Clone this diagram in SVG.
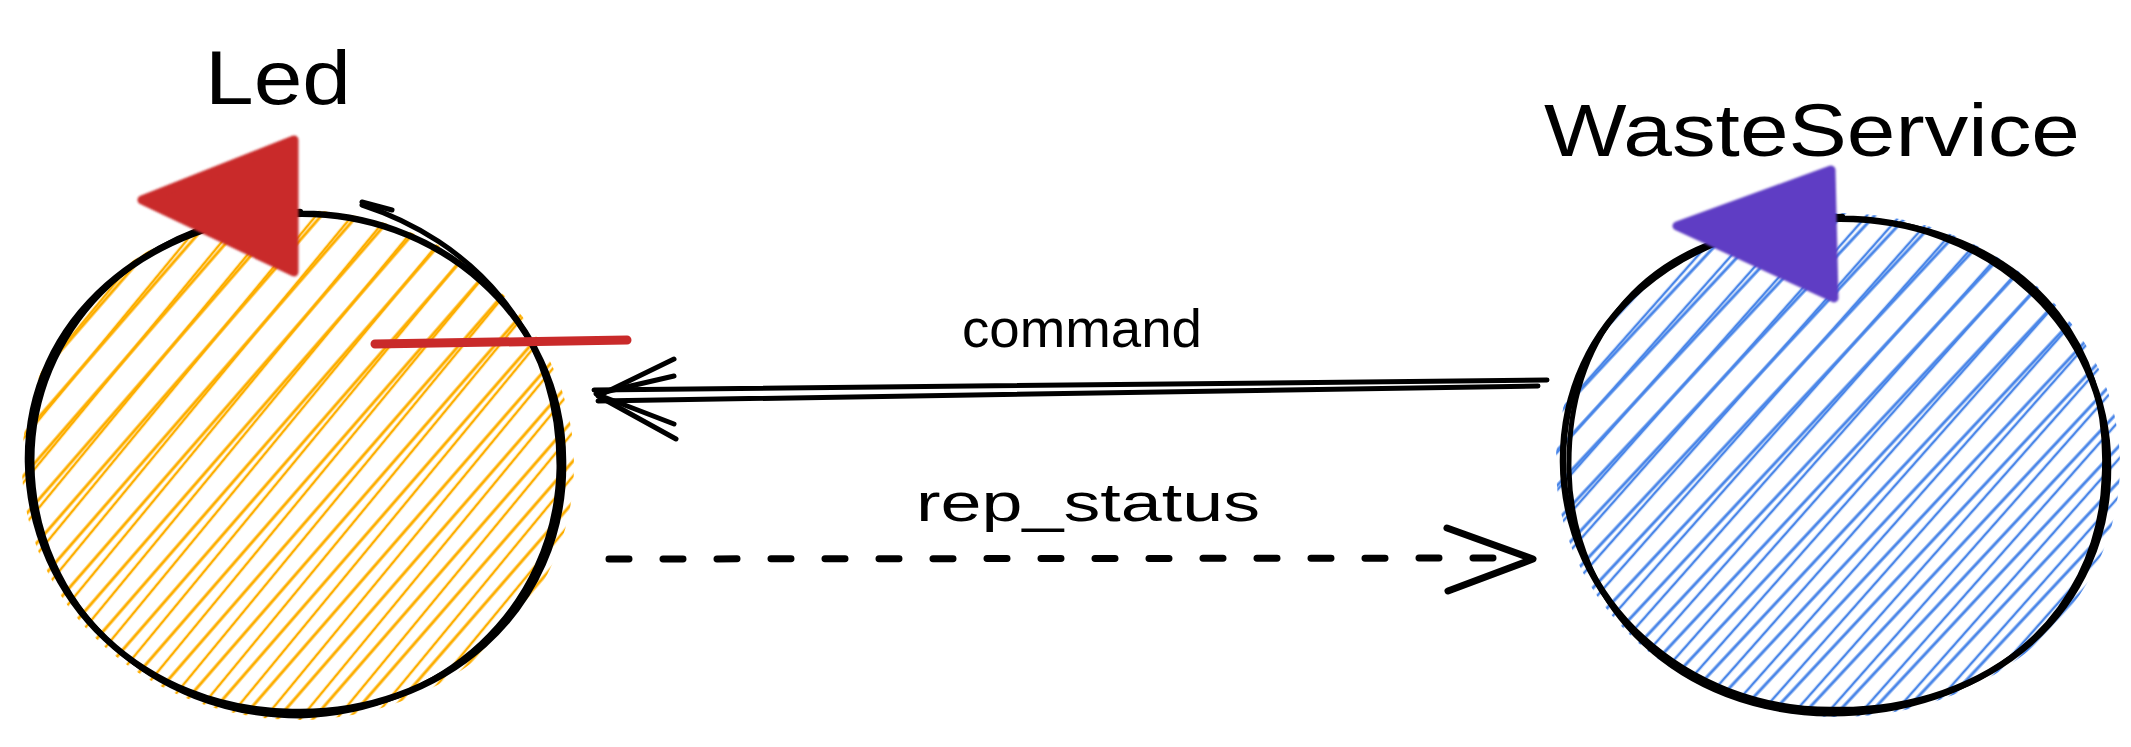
<svg xmlns="http://www.w3.org/2000/svg" width="2131" height="747" viewBox="0 0 2131 747">
  <style>
    .outline { fill: none; stroke: #000; stroke-width: 6.5; stroke-linecap: round; stroke-linejoin: round; }
    .outline2 { fill: none; stroke: #000; stroke-width: 5; stroke-linecap: round; stroke-linejoin: round; }
    .label { font-family: "Liberation Sans", "DejaVu Sans", sans-serif; fill: #000; }
    .conn { fill: none; stroke: #000; stroke-width: 5; stroke-linecap: round; stroke-linejoin: round; }
    .dash { fill: none; stroke: #000; stroke-width: 7; stroke-linecap: round; stroke-dasharray: 20 34; }
    .head { fill: none; stroke: #000; stroke-width: 7; stroke-linecap: round; stroke-linejoin: round; }
  </style>
  <defs>
    <pattern id="hOrangeA" patternUnits="userSpaceOnUse" width="200" height="27" patternTransform="rotate(-49)">
      <line x1="0" y1="6" x2="200" y2="6" stroke="#fdae00" stroke-width="3"/>
    </pattern>
    <pattern id="hOrangeB" patternUnits="userSpaceOnUse" width="200" height="28" patternTransform="rotate(-50.5) translate(0,11)">
      <line x1="0" y1="6" x2="200" y2="6" stroke="#fdae00" stroke-width="2.6"/>
    </pattern>
    <pattern id="hBlueA" patternUnits="userSpaceOnUse" width="200" height="24" patternTransform="rotate(-47)">
      <line x1="0" y1="6" x2="200" y2="6" stroke="#4a86e8" stroke-width="3"/>
    </pattern>
    <pattern id="hBlueB" patternUnits="userSpaceOnUse" width="200" height="25" patternTransform="rotate(-48.5) translate(0,10)">
      <line x1="0" y1="6" x2="200" y2="6" stroke="#4a86e8" stroke-width="2.6"/>
    </pattern>
    <clipPath id="clipLed">
      <ellipse cx="298" cy="465" rx="276" ry="255"/>
    </clipPath>
    <clipPath id="clipWaste">
      <ellipse cx="1838" cy="465" rx="282" ry="252"/>
    </clipPath>
    <filter id="soft" x="-10%" y="-10%" width="120%" height="120%">
      <feGaussianBlur stdDeviation="1.3"/>
    </filter>
  </defs>

  <rect x="0" y="0" width="2131" height="747" fill="#fff"/>

  <g id="node-led">
    <g clip-path="url(#clipLed)">
      <rect x="0" y="190" width="600" height="550" fill="url(#hOrangeA)"/>
      <rect x="0" y="190" width="600" height="550" fill="url(#hOrangeB)"/>
    </g>
    <path class="outline" d="M 290,214 C 438,208 562,318 563,460 C 566,612 440,716 292,712 C 145,710 30,602 28,462 C 26,318 150,218 300,212"/>
    <path class="outline2" d="M 362,205 C 470,240 560,330 559,468 C 556,610 440,712 300,716 C 150,716 34,606 32,464 C 30,330 140,224 270,214"/>
    <path class="outline2" d="M 362,202 L 392,210"/>
    <path d="M 142,200 L 294,140 L 294,272 Z" fill="#c92a2a" stroke="#c92a2a" stroke-width="9" stroke-linejoin="round" filter="url(#soft)"/>
    <line x1="375" y1="344" x2="627" y2="340" stroke="#c92a2a" stroke-width="9" stroke-linecap="round"/>
    <text class="label" x="205" y="104" font-size="76" textLength="146" lengthAdjust="spacingAndGlyphs">Led</text>
  </g>

  <g id="node-wasteservice">
    <g clip-path="url(#clipWaste)">
      <rect x="1540" y="200" width="600" height="540" fill="url(#hBlueA)"/>
      <rect x="1540" y="200" width="600" height="540" fill="url(#hBlueB)"/>
    </g>
    <path class="outline" d="M 1830,219 C 1990,214 2108,330 2108,465 C 2110,610 1990,712 1835,710 C 1685,712 1564,600 1563,462 C 1562,320 1680,222 1842,217"/>
    <path class="outline2" d="M 1900,224 C 2040,252 2112,350 2104,480 C 2098,620 1980,714 1830,714 C 1680,712 1572,610 1569,470 C 1567,340 1640,252 1760,230"/>
    <path d="M 1677,226 L 1831,170 L 1834,298 Z" fill="#5f3dc4" stroke="#5f3dc4" stroke-width="9" stroke-linejoin="round" filter="url(#soft)"/>
    <text class="label" x="1544" y="156" font-size="75" textLength="536" lengthAdjust="spacingAndGlyphs">WasteService</text>
  </g>

  <g id="connectors">
    <g id="edge-command">
      <path class="conn" d="M 1547,380 L 594,390"/>
      <path class="conn" d="M 1538,386 L 598,401"/>
      <path class="conn" d="M 674,359 L 598,396 L 676,439"/>
      <path class="conn" d="M 674,376 L 596,394 L 674,424"/>
      <text class="label" x="962" y="347" font-size="54" textLength="240" lengthAdjust="spacingAndGlyphs">command</text>
    </g>
    <g id="edge-rep-status">
      <path class="dash" d="M 609,559 L 1528,558"/>
      <path class="head" d="M 1447,528 L 1533,559 L 1448,591"/>
      <text class="label" x="916" y="521" font-size="54" textLength="344" lengthAdjust="spacingAndGlyphs">rep_status</text>
    </g>
  </g>
</svg>
